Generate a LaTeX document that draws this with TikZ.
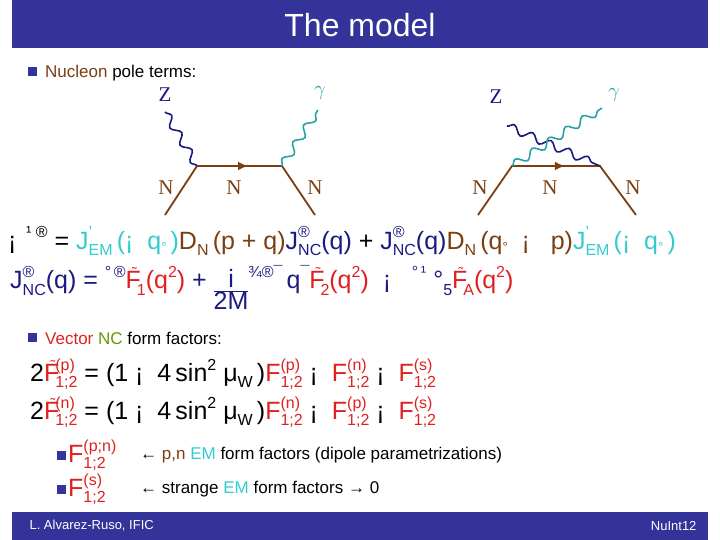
\documentclass[tikz,border=0pt]{standalone}
\usepackage{fontspec}
\setmainfont{Liberation Sans}
\usetikzlibrary{decorations.pathmorphing,calc,arrows.meta}
\definecolor{bar}{HTML}{333399}
\definecolor{nav}{HTML}{1A1A80}
\definecolor{teal}{HTML}{2AA0A8}
\definecolor{brn}{HTML}{7A3E10}
\definecolor{eqr}{HTML}{E02020}
\definecolor{grn}{HTML}{669900}
\definecolor{cyn}{HTML}{33CCCC}
\newcommand{\SSb}[3]{#1\rlap{\raisebox{0.45em}{\fontsize{16}{16}\selectfont #2}}\raisebox{-0.25em}{\fontsize{16}{16}\selectfont #3}}
\newcommand{\Sb}[1]{\raisebox{-0.25em}{\fontsize{16}{16}\selectfont #1}}
\newcommand{\Sp}[1]{\raisebox{0.45em}{\fontsize{16}{16}\selectfont #1}}
\newcommand{\Ft}{F\kern-0.35em\raisebox{0.45em}{\fontsize{14}{14}\selectfont\char"02DC}}
\begin{document}
\begin{tikzpicture}[x=1pt,y=-1pt,
  fer/.style={brn,line width=1.8pt},
  bos/.style={line width=1.6pt,decorate,decoration={snake,amplitude=4pt,segment length=20pt}},
  lab/.style={font=\fontspec{Liberation Serif}\fontsize{21}{21}\selectfont},
  eq/.style={anchor=west,font=\fontsize{25}{25}\selectfont,inner sep=0},
  txt/.style={anchor=west,font=\fontsize{17}{17}\selectfont,inner sep=0},
  blt/.style={fill=bar,minimum size=9pt,inner sep=0}]
\useasboundingbox (0,0) rectangle (720,540);
\fill[bar] (12,0) rectangle (708,48);
\node[white,font=\fontsize{32}{32}\selectfont] (title) at (360,25) {The model};
\fill[bar] (12,512) rectangle (708,540);
\node[white,anchor=west,font=\fontsize{13}{13}\selectfont] (auth) at (26,526) {L. Alvarez-Ruso, IFIC};
\node[white,anchor=east,font=\fontsize{13}{13}\selectfont] (conf) at (700,526) {NuInt12};
% bullet 1
\node[blt] (b1) at (32,72) {};
\node[txt] (t1) at (45,73) {\textcolor{brn}{Nucleon} pole terms:};
% diagram 1
\coordinate (v1) at (197,166); \coordinate (v2) at (282,166);
\coordinate (a1) at (165,215); \coordinate (a2) at (315,215);
\coordinate (z1) at (165,112); \coordinate (g1) at (318,110);
\draw[fer] (a1) -- (v1) -- (v2) -- (a2);
\draw[fer,-{Latex[length=10pt,width=9pt]}] (v1) -- ($(v1)!0.6!(v2)$);
\draw[bos,nav] (z1) -- (v1);
\draw[bos,teal] (v2) -- (g1);
\node[lab,nav] (zl1) at (165,95) {Z};
\node[lab,teal] (gl1) at (320,93) {$\gamma$};
\node[lab,brn] (n1) at (166,188) {N};
\node[lab,brn] (n2) at (234,188) {N};
\node[lab,brn] (n3) at (315,188) {N};
% diagram 2
\coordinate (w1) at (512,166); \coordinate (w2) at (600,166);
\coordinate (c1) at (478,215); \coordinate (c2) at (636,215);
\coordinate (z2) at (507,126); \coordinate (g2) at (602,108);
\draw[fer] (c1) -- (w1) -- (w2) -- (c2);
\draw[fer,-{Latex[length=10pt,width=9pt]}] (w1) -- ($(w1)!0.6!(w2)$);
\draw[bos,nav] (z2) -- (w2);
\draw[bos,teal] (w1) -- (g2);
\node[lab,nav] (zl2) at (496,97) {Z};
\node[lab,teal] (gl2) at (614,95) {$\gamma$};
\node[lab,brn] (n4) at (480,188) {N};
\node[lab,brn] (n5) at (550,188) {N};
\node[lab,brn] (n6) at (633,188) {N};
% equations
\node[eq] (e1) at (8,241) {¡ \Sp{\,¹ ®} = \textcolor{cyn}{\SSb{J}{'}{EM}\,(¡\ \ q\raisebox{-0.1em}{\fontsize{13}{13}\selectfont °}\,)}\textcolor{brn}{D\Sb{N}\,(p + q)}\textcolor{nav}{\SSb{J}{®}{NC}(q)} + \textcolor{nav}{\SSb{J}{®}{NC}(q)}\textcolor{brn}{D\Sb{N}\,(q\raisebox{-0.1em}{\fontsize{13}{13}\selectfont °}\ \ ¡\ \ \ p)}\textcolor{cyn}{\SSb{J}{'}{EM}\,(¡\ \ q\raisebox{-0.1em}{\fontsize{13}{13}\selectfont °}\,)}};
\node[eq,nav] (e2) at (10,291) {\SSb{J}{®}{NC}(q) = \Sp{°\,®}\textcolor{eqr}{\Ft\Sb{1}(q\Sp{2})} + \raisebox{-0.42em}{\begin{tabular}{@{}c@{}}i\\[-4pt]\hline 2M\end{tabular}}\Sp{¾}\Sp{®¯}\,q\Sp{¯}\textcolor{eqr}{\Ft\Sb{2}(q\Sp{2})}\ \ ¡\ \ \ \Sp{°\,¹}\ °\Sb{5}\textcolor{eqr}{\Ft\Sb{A}(q\Sp{2})}};
% bullet 2
\node[blt] (b2) at (32,337) {};
\node[txt] (t2) at (45,338) {\textcolor{eqr}{Vector} \textcolor{grn}{NC} form factors:};
\node[eq] (e3) at (30,374) {2\textcolor{eqr}{\SSb{\Ft}{(p)}{1;2}} = (1\ ¡\ \ 4\,sin\Sp{2} μ\Sb{W}\,)\textcolor{eqr}{\SSb{F}{(p)}{1;2}}\ ¡\ \ \textcolor{eqr}{\SSb{F}{(n)}{1;2}}\ ¡\ \ \textcolor{eqr}{\SSb{F}{(s)}{1;2}}};
\node[eq] (e4) at (30,412) {2\textcolor{eqr}{\SSb{\Ft}{(n)}{1;2}} = (1\ ¡\ \ 4\,sin\Sp{2} μ\Sb{W}\,)\textcolor{eqr}{\SSb{F}{(n)}{1;2}}\ ¡\ \ \textcolor{eqr}{\SSb{F}{(p)}{1;2}}\ ¡\ \ \textcolor{eqr}{\SSb{F}{(s)}{1;2}}};
\node[blt] (b3) at (61,455) {};
\node[eq] (e5) at (68,455) {\textcolor{eqr}{\SSb{F}{(p;n)}{1;2}}};
\node[txt] (t5) at (140,455) {← \textcolor{brn}{p,n} \textcolor{cyn}{EM} form factors (dipole parametrizations)};
\node[blt] (b4) at (61,489) {};
\node[eq] (e6) at (68,489) {\textcolor{eqr}{\SSb{F}{(s)}{1;2}}};
\node[txt] (t6) at (140,489) {← strange \textcolor{cyn}{EM} form factors → 0};
\end{tikzpicture}
\end{document}
